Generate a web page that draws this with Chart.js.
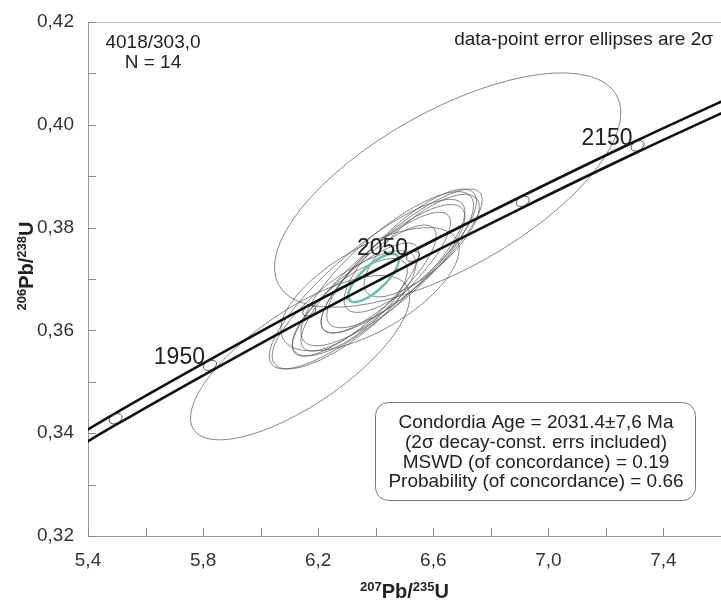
<!DOCTYPE html>
<html>
<head>
<meta charset="utf-8">
<script src="https://cdn.jsdelivr.net/npm/chart.js@4.4.1/dist/chart.umd.min.js"></script>
<style>
  html, body { margin: 0; padding: 0; background: #fff; }
</style>
</head>
<body>
<canvas id="chart" width="721" height="601"></canvas>
<script>
// concordia band, one point every 50 Ma
const concAges = [1850, 1900, 1950, 2000, 2050, 2100, 2150, 2200];
const concX = [5.184, 5.496, 5.824, 6.169, 6.530, 6.911, 7.310, 7.729];
const concY = [0.3324, 0.3428, 0.3532, 0.3638, 0.3744, 0.3851, 0.3959, 0.4067];
const bandUpperY = [0.3335, 0.3439, 0.3543, 0.3649, 0.3755, 0.3862, 0.3970, 0.4078];
const bandLowerY = [0.3312, 0.3416, 0.3520, 0.3626, 0.3732, 0.3839, 0.3947, 0.4055];
const labelledAges = [1950, 2050, 2150];

// data-point error ellipses (2 sigma half widths + error correlation)
const ptX    = [6.650, 6.137, 6.370, 6.440, 6.400, 6.470, 6.330, 6.490, 6.410, 6.310, 6.520, 6.380, 6.560, 6.290];
const ptY    = [0.3873, 0.3547, 0.3690, 0.3720, 0.3695, 0.3725, 0.3660, 0.3735, 0.3700, 0.3645, 0.3755, 0.3680, 0.3765, 0.3640];
const ptErrX = [0.602, 0.381, 0.340, 0.300, 0.260, 0.240, 0.220, 0.280, 0.200, 0.200, 0.230, 0.310, 0.200, 0.250];
const ptErrY = [0.0228, 0.0160, 0.0165, 0.0150, 0.0135, 0.0120, 0.0110, 0.0140, 0.0105, 0.0095, 0.0120, 0.0120, 0.0100, 0.0115];
const ptRho  = [0.66, 0.735, 0.85, 0.82, 0.85, 0.80, 0.82, 0.85, 0.80, 0.75, 0.80, 0.65, 0.75, 0.78];

// concordia age ellipse
const ageX = [6.392];
const ageY = [0.3702];
const ageErrX = [0.088];
const ageErrY = [0.0047];
const ageRho = [0.75];

const sampleLines = ["4018/303,0", "N = 14"];
const noteText = "data-point error ellipses are 2σ";
const resultLines = [
  "Condordia Age = 2031.4±7,6 Ma",
  "(2σ decay-const. errs included)",
  "MSWD (of concordance) = 0.19",
  "Probability (of concordance) = 0.66"
];

const FONT = "'Liberation Sans', Arial, sans-serif";

function drawEllipse(ctx, xs, ys, x, y, ex, ey, rho) {
  const cx = xs.getPixelForValue(x), cy = ys.getPixelForValue(y);
  const A = xs.getPixelForValue(x + ex) - cx;
  const B = cy - ys.getPixelForValue(y + ey);
  const c = -rho * A * B; // screen y points down
  const m = (A * A + B * B) / 2;
  const d = Math.sqrt(((A * A - B * B) / 2) ** 2 + c * c);
  const r1 = Math.sqrt(m + d), r2 = Math.sqrt(Math.max(m - d, 0.01));
  const ang = 0.5 * Math.atan2(2 * c, A * A - B * B);
  ctx.beginPath();
  ctx.ellipse(cx, cy, r1, r2, ang, 0, Math.PI * 2);
  ctx.stroke();
}

function drawIsoLabel(ctx, parts, x, y, rotate) {
  const big = "bold 20px " + FONT, small = "bold 13px " + FONT;
  ctx.save();
  ctx.translate(x, y);
  if (rotate) ctx.rotate(-Math.PI / 2);
  let w = 0;
  parts.forEach(p => { ctx.font = p[1] ? small : big; w += ctx.measureText(p[0]).width; });
  let pos = -w / 2;
  ctx.fillStyle = "#222";
  ctx.textAlign = "left";
  ctx.textBaseline = "alphabetic";
  parts.forEach(p => {
    ctx.font = p[1] ? small : big;
    ctx.fillText(p[0], pos, p[1] ? -7 : 0);
    pos += ctx.measureText(p[0]).width;
  });
  ctx.restore();
}

const concordiaPlugin = {
  id: "concordia",
  beforeDatasetsDraw(chart) {
    const { ctx, chartArea: a, scales: { x: xs, y: ys } } = chart;
    ctx.save();
    ctx.beginPath();
    ctx.rect(a.left, a.top, a.right - a.left, a.bottom - a.top);
    ctx.clip();
    ctx.strokeStyle = "#555";
    ctx.lineWidth = 0.7;
    ptX.forEach((v, i) => drawEllipse(ctx, xs, ys, v, ptY[i], ptErrX[i], ptErrY[i], ptRho[i]));
    ctx.strokeStyle = "#6cc0ad";
    ctx.lineWidth = 2.5;
    ageX.forEach((v, i) => drawEllipse(ctx, xs, ys, v, ageY[i], ageErrX[i], ageErrY[i], ageRho[i]));
    ctx.restore();
  },
  afterDatasetsDraw(chart) {
    const { ctx, chartArea: a, scales: { x: xs, y: ys } } = chart;
    ctx.save();
    // top frame line
    ctx.strokeStyle = "#bbb";
    ctx.lineWidth = 1;
    ctx.beginPath();
    ctx.moveTo(a.left, a.top + 0.5);
    ctx.lineTo(a.right, a.top + 0.5);
    ctx.stroke();

    // inside ticks
    ctx.strokeStyle = "#888";
    xs.ticks.forEach(t => {
      const px = Math.round(xs.getPixelForValue(t.value)) + 0.5;
      ctx.beginPath(); ctx.moveTo(px, a.bottom); ctx.lineTo(px, a.bottom - 8); ctx.stroke();
    });
    ys.ticks.forEach(t => {
      const py = Math.round(ys.getPixelForValue(t.value)) + 0.5;
      ctx.beginPath(); ctx.moveTo(a.left, py); ctx.lineTo(a.left + 8, py); ctx.stroke();
    });

    // age markers on the band
    ctx.beginPath();
    ctx.rect(a.left, a.top, a.right - a.left, a.bottom - a.top);
    ctx.clip();
    const ang = Math.atan2(ys.getPixelForValue(concY[6]) - ys.getPixelForValue(concY[2]),
                           xs.getPixelForValue(concX[6]) - xs.getPixelForValue(concX[2]));
    ctx.strokeStyle = "#333";
    ctx.lineWidth = 0.8;
    concAges.forEach((age, i) => {
      const px = xs.getPixelForValue(concX[i]), py = ys.getPixelForValue(concY[i]);
      ctx.beginPath();
      ctx.ellipse(px, py, 7, 4.5, ang, 0, Math.PI * 2);
      ctx.stroke();
      if (labelledAges.includes(age)) {
        ctx.font = "23px " + FONT;
        ctx.fillStyle = "#222";
        ctx.textAlign = "right";
        ctx.textBaseline = "alphabetic";
        ctx.fillText(String(age), px - 5, py - 1);
      }
    });
    ctx.restore();

    // texts
    ctx.save();
    ctx.fillStyle = "#222";
    ctx.font = "19px " + FONT;
    ctx.textAlign = "center";
    ctx.textBaseline = "middle";
    ctx.fillText(sampleLines[0], 153, 43);
    ctx.fillText(sampleLines[1], 153, 63);
    ctx.textAlign = "right";
    ctx.fillText(noteText, 713, 40);

    // result box
    ctx.strokeStyle = "#777";
    ctx.lineWidth = 1;
    ctx.beginPath();
    ctx.roundRect(375.5, 402.5, 320, 98, 13);
    ctx.stroke();
    ctx.textAlign = "center";
    resultLines.forEach((s, i) => ctx.fillText(s, 536, 423 + i * 19.7));
    ctx.restore();

    drawIsoLabel(ctx, [["207", true], ["Pb/", false], ["235", true], ["U", false]], (a.left + a.right) / 2, 598, false);
    drawIsoLabel(ctx, [["206", true], ["Pb/", false], ["238", true], ["U", false]], 33, 266, true);
  }
};

const bandStyle = {
  borderColor: "#111",
  borderWidth: 2.6,
  pointRadius: 0,
  cubicInterpolationMode: "monotone",
  fill: false
};

new Chart(document.getElementById("chart").getContext("2d"), {
  type: "line",
  data: {
    datasets: [
      Object.assign({ label: "upper", data: concX.map((x, i) => ({ x: x, y: bandUpperY[i] })) }, bandStyle),
      Object.assign({ label: "lower", data: concX.map((x, i) => ({ x: x, y: bandLowerY[i] })) }, bandStyle)
    ]
  },
  options: {
    responsive: false,
    animation: false,
    devicePixelRatio: 1,
    layout: { padding: { top: 22, right: 0, left: 0, bottom: 0 } },
    plugins: { legend: { display: false }, tooltip: { enabled: false } },
    scales: {
      x: {
        type: "linear",
        min: 5.4,
        max: 7.6,
        afterFit: s => { s.height = 65; s.paddingLeft = 0; s.paddingRight = 0; },
        grid: { display: false, drawTicks: false },
        border: { display: true, color: "#999", width: 1 },
        ticks: {
          stepSize: 0.2,
          padding: 13,
          color: "#333",
          font: { family: FONT, size: 19 },
          autoSkip: false,
          maxRotation: 0,
          callback: v => (Math.round((v - 5.4) / 0.2) % 2 === 0 ? v.toFixed(1).replace(".", ",") : "")
        }
      },
      y: {
        type: "linear",
        min: 0.32,
        max: 0.42,
        afterFit: s => { s.width = 88; s.paddingTop = 0; s.paddingBottom = 0; },
        grid: { display: false, drawTicks: false },
        border: { display: true, color: "#999", width: 1 },
        ticks: {
          stepSize: 0.01,
          padding: 14,
          color: "#333",
          font: { family: FONT, size: 19 },
          autoSkip: false,
          callback: v => (Math.round(v * 100) % 2 === 0 ? v.toFixed(2).replace(".", ",") : "")
        }
      }
    }
  },
  plugins: [concordiaPlugin]
});
</script>
</body>
</html>
